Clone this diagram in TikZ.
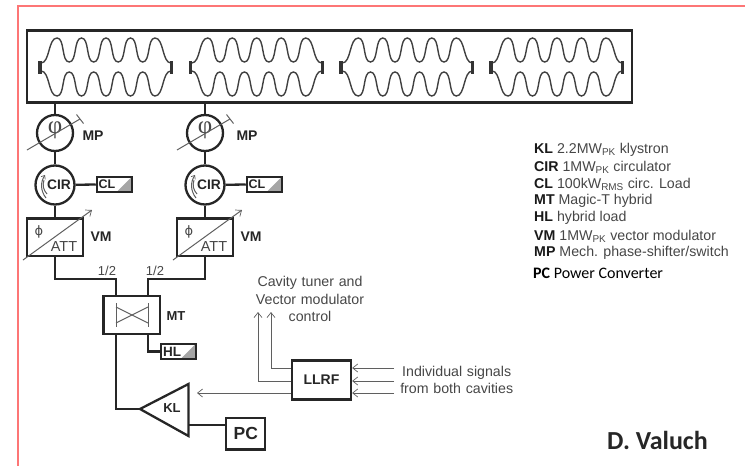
\documentclass[tikz,border=0pt]{standalone}
\usepackage{fontspec}
\setmainfont{Liberation Sans}
\newfontfamily\calibri{Carlito}
\newfontfamily\phiserif{Liberation Serif}
\newfontfamily\phisans{DejaVu Sans}
\usepackage{tikz}
\usetikzlibrary{arrows.meta}

\definecolor{framered}{RGB}{253,118,118}
\definecolor{thingray}{RGB}{95,95,95}
\definecolor{loadgray}{RGB}{165,165,165}
\definecolor{textgray}{RGB}{70,70,70}

\newcommand{\legkey}[1]{\textcolor{black!90}{\textbf{#1}}}

\tikzset{
    thick line/.style={line width=2.3pt, black!85},
    thin line/.style={line width=1pt, thingray},
    open tip/.style={-{Straight Barb[length=5pt, width=8pt, line width=0.7pt]}},
    box/.style={draw=black!85, line width=2.3pt, inner sep=0pt, text=black!85},
    ring/.style={box, circle},
    loadbox/.style={box, minimum width=35pt, minimum height=15pt, path picture={
        \fill[loadgray] (path picture bounding box.north east) -- (path picture bounding box.south east)
            -- ([xshift=-15pt]path picture bounding box.south east) -- cycle;}},
    boxlabel/.style={font=\fontsize{14}{16}\selectfont\bfseries, text=black!85, inner sep=0pt},
    signal/.style={font=\fontsize{14.2}{17.3}\selectfont, text=textgray, align=center, inner sep=0pt},
    legend/.style={font=\fontsize{14.2}{16}\selectfont, text=textgray, anchor=west, inner sep=0pt}
}

\begin{document}
\begin{tikzpicture}[x=1pt, y=-1pt]
    \useasboundingbox (0,0) rectangle (745,466);

    % Frame
    \draw[framered, line width=2pt] (18,466) -- (18,6) -- (745,6);

    % Cryomodule
    \node[box, minimum width=604.6pt, minimum height=72pt] (Module) at (329.6,66.5) {};

    % Cavities
    \foreach \c in {0,150.7,301.3,451}
    {
        \begin{scope}[xshift=\c pt]
            \foreach \s/\o in {1/0,-1/134}
            {
                \begin{scope}[yshift=-\o pt, yscale=\s]
                    \draw[line width=1.4pt, black!75] (41,63) .. controls (50,63) and (48,38) .. (57,38)
                        \foreach \p in {57,81.5,106,130.5}
                        {
                            .. controls (\p+8,38) and (\p+4.2,62) .. (\p+12.2,62)
                            .. controls (\p+20.2,62) and (\p+16.5,38) .. (\p+24.5,38)
                        }
                        .. controls (164,38) and (162,63) .. (171,63);
                \end{scope}
            }
            \fill[black!80] (38,60.5) rectangle (41.5,73.5);
            \fill[black!80] (170,60.5) rectangle (173,73.5);
        \end{scope}
    }

    % RF lines, one per cavity
    \foreach \i/\x/\m in {1/55/38,2/205/42}
    {
        \node[ring, minimum size=36pt] (MP-\i) at (\x,133) {};
        \node[ring, minimum size=39pt] (CIR-\i) at (\x,185) {};
        \node[box, minimum width=55.5pt, minimum height=37.5pt] (VM-\i) at (\x,237.3) {};
        \node[loadbox] (CL-\i) at (\x+59.4,184.3) {};
        \node[boxlabel, font=\fontsize{12.5}{14}\selectfont\bfseries] (CL-text-\i) at (\x+52,184.5) {CL};
        \node[boxlabel, font=\fontsize{13.8}{16}\selectfont\bfseries] (CIR-text-\i) at (\x+4,185) {CIR};

        % Phase shifter
        \node[inner sep=0pt, text=textgray, font=\phiserif\fontsize{25}{25}\selectfont] (MP-phi-\i) at (\x,130) {φ};
        \coordinate (MP-a-\i) at (\x-28,150);
        \coordinate (MP-b-\i) at (\x+25,119);
        \draw[thin line] (MP-a-\i) -- (MP-b-\i);
        \draw[thin line] ([shift={(-3.5,-4.5)}]MP-b-\i) -- ([shift={(3.5,4.5)}]MP-b-\i);

        % Vector modulator
        \coordinate (VM-a-\i) at (\x-32,260);
        \coordinate (VM-b-\i) at (\x+37,210);
        \draw[thin line, open tip] (VM-a-\i) -- (VM-b-\i);
        \node[inner sep=0pt, font=\phisans\fontsize{13}{14}\selectfont, text=textgray] (VM-phi-\i) at (\x-16,232) {ϕ};
        \node[inner sep=0pt, font=\fontsize{14.5}{16}\selectfont, text=textgray] (VM-att-\i) at (\x+9,247) {ATT};

        % Circulator arrows
        \draw[thin line, -{Straight Barb[length=3pt, width=5pt, line width=0.7pt]}] (\x-9,198) to[bend left=35] (\x-10,175);
        \draw[thin line] (\x-8,194) to[bend left=30] (\x-11,180);

        \node[boxlabel] (MP-text-\i) at (\x+\m,136) {MP};
        \node[boxlabel] (VM-text-\i) at (\x+46,237) {VM};

        \draw[thick line] (Module.south -| MP-\i) -- (MP-\i);
        \draw[thick line] (MP-\i) -- (CIR-\i);
        \draw[thick line] (CIR-\i) -- (VM-\i);
        \draw[thick line] (CIR-\i) -- (CL-\i);
    }

    % Magic-T and below
    \node[box, minimum width=56.5pt, minimum height=38pt] (MT) at (131.7,315) {};
    \node[boxlabel, font=\fontsize{13}{15}\selectfont\bfseries] (MT-text) at (176,316) {MT};
    \draw[thin line] (116,303) -- (116,327);
    \draw[thin line] (148,303) -- (148,327);
    \draw[thin line] (116,307) -- (148,323);
    \draw[thin line] (116,323) -- (148,307);

    \coordinate (Split-1) at (116,279);
    \coordinate (Split-2) at (148,279);
    \draw[thick line] (VM-1.south) |- (Split-1) -- (Split-1 |- MT.north);
    \draw[thick line] (VM-2.south) |- (Split-2) -- (Split-2 |- MT.north);
    \node[signal, font=\fontsize{13}{15}\selectfont] (Half-1) at (107,271) {1/2};
    \node[signal, font=\fontsize{13}{15}\selectfont] (Half-2) at (155,271) {1/2};

    % Hybrid load
    \node[loadbox] (HL) at (178.3,351.4) {};
    \node[boxlabel, font=\fontsize{13.5}{15}\selectfont\bfseries] (HL-text) at (172,352) {HL};
    \draw[thick line] (MT.south -| Split-2) |- (HL.west);

    % Klystron
    \coordinate (KL-tip) at (140,409);
    \coordinate (KL-top) at (188.5,384);
    \coordinate (KL-bottom) at (188.5,436);
    \draw[draw=black!85, line width=2.3pt, line join=miter] (KL-tip) -- (KL-top) -- (KL-bottom) -- cycle;
    \node[boxlabel, font=\fontsize{13}{15}\selectfont\bfseries] (KL-text) at (172,408) {KL};
    \draw[thick line] (MT.south -| Split-1) |- (KL-tip);

    \node[box, minimum width=39pt, minimum height=31.6pt, font=\fontsize{17.5}{20}\selectfont\bfseries] (PC) at (245.8,433.7) {PC};
    \coordinate (PC-in) at (189,425);
    \draw[thick line] (PC-in) -- (PC-in -| PC.west);

    % LLRF
    \node[box, minimum width=59pt, minimum height=39pt, font=\fontsize{14}{16}\selectfont\bfseries] (LLRF) at (321.5,380) {LLRF};
    \coordinate (KL-in) at (197,393);
    \draw[thin line, open tip] (KL-in -| LLRF.west) -- (KL-in);

    \coordinate (Up-1) at (258,312);
    \coordinate (Up-2) at (271,312);
    \draw[thin line, open tip] (LLRF.west |- 0,381) -| (Up-1);
    \draw[thin line, open tip] (LLRF.west |- 0,368) -| (Up-2);

    \foreach \i/\y in {1/368,2/381,3/393}
    {
        \coordinate (In-\i) at (394,\y);
        \draw[thin line, open tip] (In-\i) -- (In-\i -| LLRF.east);
    }

    % Texts
    \node[signal, text width=130pt] (Tuner) at (310,299) {Cavity tuner and\\Vector modulator\\control};
    \node[signal, text width=130pt] (Signals) at (456.7,380) {Individual signals\\from both cavities};

    % Legend
    \node[legend] (Leg-1) at (534,150) {\legkey{KL} 2.2MW\textsubscript{PK} klystron};
    \node[legend] (Leg-2) at (534,167) {\legkey{CIR} 1MW\textsubscript{PK} circulator};
    \node[legend] (Leg-3) at (534,184) {\legkey{CL} 100kW\textsubscript{RMS} circ. Load};
    \node[legend] (Leg-4) at (534,201) {\legkey{MT} Magic-T hybrid};
    \node[legend] (Leg-5) at (534,218) {\legkey{HL} hybrid load};
    \node[legend] (Leg-6) at (534,236) {\legkey{VM} 1MW\textsubscript{PK} vector modulator};
    \node[legend] (Leg-7) at (534,253) {\legkey{MP} Mech. phase-shifter/switch};
    \node[legend, font=\calibri\fontsize{16}{18}\selectfont, text=black] (Leg-8) at (533,273) {\textbf{PC} Power Converter};

    \node[inner sep=0pt, font=\calibri\fontsize{26}{28}\selectfont\bfseries, text=black!85] (Author) at (657.5,440) {D. Valuch};
\end{tikzpicture}
\end{document}
